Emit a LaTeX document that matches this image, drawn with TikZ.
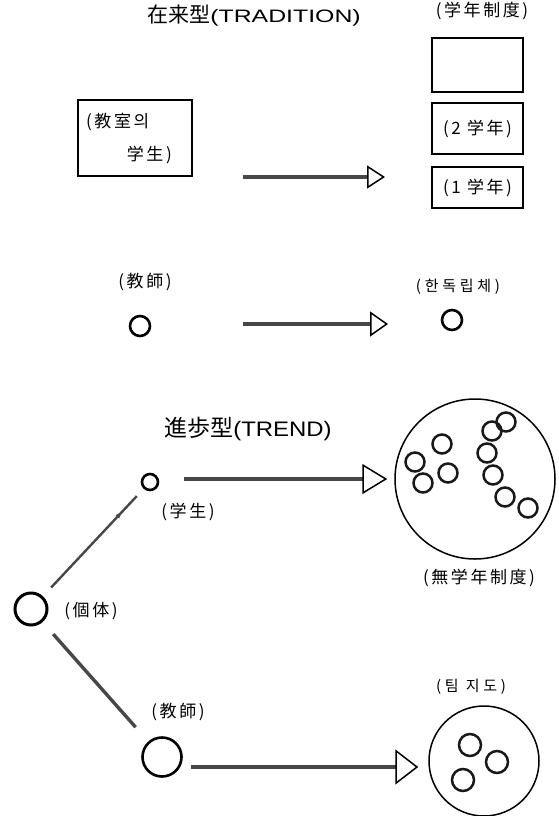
\documentclass[tikz,border=0pt]{standalone}
\usepackage{fontspec}
\usepackage{graphicx}
\setmainfont{Liberation Sans}
\newfontfamily\cjk{Noto Sans CJK JP}
\newfontfamily\cjksp[LetterSpace=15]{Noto Sans CJK JP}
\newfontfamily\krsp[LetterSpace=25]{Noto Sans CJK KR}
\usetikzlibrary{arrows.meta,decorations.markings}
\begin{document}
\begin{tikzpicture}[x=1pt,y=-1pt,
  lbl/.style={inner sep=0pt, font=\cjksp\fontsize{17}{20}\selectfont},
  krlbl/.style={inner sep=0pt, font=\krsp\fontsize{15}{18}\selectfont},
  ttl/.style={inner sep=0pt},
  box/.style={draw, line width=1.6pt, minimum width=91pt, inner sep=0pt, font=\cjksp\fontsize{17}{20}\selectfont},
  dot/.style={circle, draw, line width=2.6pt, inner sep=0pt, minimum size=#1},
  ring/.style={circle, draw, line width=1.5pt, inner sep=0pt, minimum size=#1},
  pebble/.style={circle, draw=black!90, line width=2.5pt, inner sep=0pt, minimum size=#1},
  shaft/.style={draw=black!72, line width=3.4pt},
  thinshaft/.style={draw=black!72, line width=2.4pt},
]
\useasboundingbox (0,0) rectangle (558,816);

% ---------- TRADITION ----------
\node[ttl] (t1) at (254,16) {{\cjk\fontsize{21}{24}\selectfont 在来型}\scalebox{1.38}[1]{\fontsize{18}{22}\selectfont(TRADITION)}};

\node[lbl] (lyear) at (482,11) {(学年制度)};
\node[box, minimum height=54pt] (b1) at (477.5,65) {};
\node[box, minimum height=51pt] (b2) at (477.5,128.5) {(2 学年)};
\node[box, minimum height=41pt] (b3) at (477.5,187.5) {(1 学年)};

\node[box, minimum width=114pt, minimum height=76pt] (lbox) at (135,138) {};
\node[lbl, anchor=west] (lb1) at (86,122) {(教室의};
\node[lbl, anchor=east] (lb2) at (172,155) {学生)};

\coordinate (a1s) at (243,177);
\coordinate (a1e) at (385,177);
\draw[shaft, -{Triangle[open,length=18pt,width=23pt,line width=1.5pt,color=black]}] (a1s) -- (a1e);

\node[lbl] (ltch1) at (145,282) {(教師)};
\node[dot=20pt] (tch1) at (140,326) {};
\node[krlbl] (lind) at (458,287) {(한독립체)};
\node[dot=20pt] (ind) at (452,320) {};

\coordinate (a2s) at (243,324);
\coordinate (a2e) at (388,324);
\draw[shaft, -{Triangle[open,length=18pt,width=25pt,line width=1.5pt,color=black]}] (a2s) -- (a2e);

% ---------- TREND ----------
\node[ttl] (t2) at (248,429) {{\cjk\fontsize{23}{27}\selectfont 進歩型}\scalebox{1.14}[1]{\fontsize{21}{25}\selectfont(TREND)}};

\node[dot=16pt] (stud) at (150,482) {};
\node[lbl] (lstud) at (188,512) {(学生)};
\node[dot=32pt, line width=3pt] (indiv) at (31,609) {};
\node[lbl] (lindiv) at (91,611) {(個体)};

\node[ring=160pt] (big) at (475,479) {};
\node[pebble=19pt] (p1) at (415,462) {};
\node[pebble=19pt] (p2) at (423,483) {};
\node[pebble=19pt] (p3) at (442,444) {};
\node[pebble=19pt] (p4) at (448,473) {};
\node[pebble=19pt] (p5) at (492,431) {};
\node[pebble=19pt] (p6) at (506,422) {};
\node[pebble=19pt] (p7) at (487,453) {};
\node[pebble=19pt] (p8) at (493,475) {};
\node[pebble=19pt] (p9) at (505,497) {};
\node[pebble=19pt] (p10) at (528,508) {};
\node[lbl] (lbig) at (479,578) {(無学年制度)};

\draw[shaft, shorten <=25pt, shorten >=7pt, -{Triangle[open,length=25pt,width=30pt,line width=1.5pt,color=black]}]
  ([yshift=3pt]stud.east) -- ([yshift=3pt]stud.east -| big.west);

\draw[thinshaft, shorten <=12pt, shorten >=10pt,
  postaction={decorate, decoration={markings, mark=at position 0.8 with {\arrow{Latex[length=9pt,width=5pt]}}}}]
  (indiv) -- (stud);

\node[lbl] (ltch2) at (178,712) {(教師)};
\node[dot=39pt] (tch2) at (162,757) {};
\draw[shaft, shorten <=16pt, shorten >=19pt] (indiv) -- (tch2);

\node[krlbl] (lteam) at (471,687) {(팀 지도)};
\node[ring=110pt] (team) at (484,761) {};
\node[pebble=22pt] (q1) at (470,745) {};
\node[pebble=22pt] (q2) at (497,762) {};
\node[pebble=22pt] (q3) at (463,780) {};

\draw[shaft, shorten <=8pt, shorten >=10pt, -{Triangle[open,length=23pt,width=35pt,line width=1.5pt,color=black]}]
  ([yshift=-10pt]tch2.east) -- ([yshift=-10pt]tch2.east -| team.west);
\end{tikzpicture}
\end{document}
